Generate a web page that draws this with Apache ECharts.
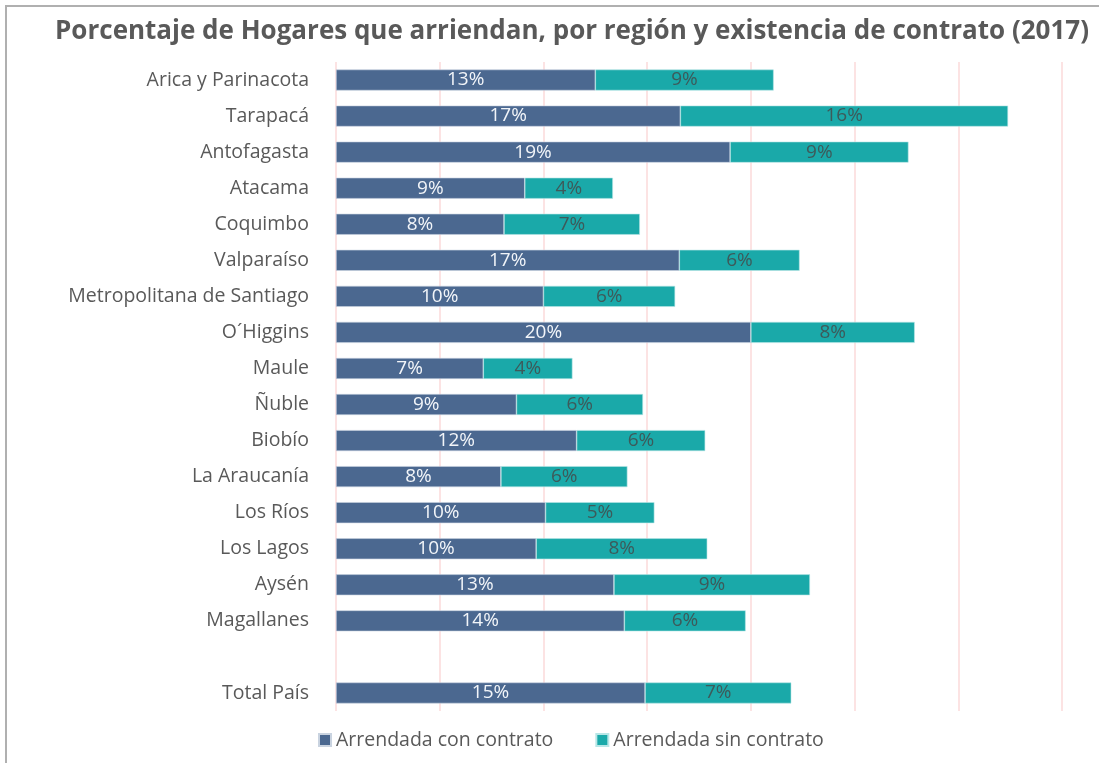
<!DOCTYPE html>
<html>
<head>
<meta charset="utf-8">
<script src="https://cdn.jsdelivr.net/npm/echarts@6/dist/echarts.min.js"></script>
<style>
  html, body { margin:0; padding:0; background:#fff; }
  #chart { width:1099px; height:763px; }
</style>
</head>
<body>
<div id="chart"></div>
<script>
// regiones (la fila vacía separa Total País)
const regiones = [
  "Arica y Parinacota","Tarapacá","Antofagasta","Atacama","Coquimbo","Valparaíso",
  "Metropolitana de Santiago","O´Higgins","Maule","Ñuble","Biobío","La Araucanía",
  "Los Ríos","Los Lagos","Aysén","Magallanes","","Total País"
];
const conContrato = [12.5, 16.6, 19.0, 9.1, 8.1, 16.55, 10.0, 20.0, 7.1, 8.7, 11.6, 7.95, 10.1, 9.65, 13.4, 13.9, null, 14.9];
const sinContrato = [8.6, 15.8, 8.6, 4.25, 6.55, 5.8, 6.35, 7.9, 4.3, 6.1, 6.2, 6.1, 5.25, 8.25, 9.45, 5.85, null, 7.05];
const serieNombres = ["Arrendada con contrato", "Arrendada sin contrato"];

const FONT = "Open Sans";
const GRIS = "#595959";

const chart = echarts.init(document.getElementById("chart"));

const lbl = (color) => ({
  show: true,
  position: "inside",
  color: color,
  fontFamily: FONT,
  fontSize: 19,
  formatter: p => (p.value == null ? "" : Math.round(p.value) + "%")
});

chart.setOption({
  animation: false,
  title: {
    text: "Porcentaje de Hogares que arriendan, por región y existencia de contrato (2017)",
    left: 567,
    textAlign: "center",
    top: 14,
    textStyle: { fontFamily: FONT, fontWeight: "bold", fontSize: 26, color: GRIS }
  },
  graphic: [{
    type: "rect",
    shape: { x: 6, y: 6, width: 1200, height: 900 },
    style: { fill: "none", stroke: "#b0b0b0", lineWidth: 2 },
    silent: true
  }],
  legend: {
    bottom: 8,
    left: 313,
    itemWidth: 12,
    itemHeight: 12,
    itemGap: 42,
    icon: "rect",
    textStyle: { fontFamily: FONT, fontSize: 19.5, color: GRIS },
    data: serieNombres
  },
  grid: { left: 336, right: 37, top: 62, height: 649 },
  xAxis: {
    type: "value",
    min: 0, max: 35, interval: 5,
    axisLabel: { show: false },
    axisLine: { show: false },
    axisTick: { show: false },
    splitLine: { show: true, lineStyle: { color: "#fbdada", width: 1.5 } }
  },
  yAxis: {
    type: "category",
    inverse: true,
    data: regiones,
    axisLine: { show: false },
    axisTick: { show: false },
    axisLabel: { fontFamily: FONT, fontSize: 19.5, color: GRIS, margin: 27 }
  },
  series: [
    {
      name: serieNombres[0],
      type: "bar",
      stack: "total",
      barWidth: 21,
      itemStyle: { color: "#4b6890", borderColor: "#c9d3e0", borderWidth: 0.6 },
      label: lbl("#f2f5f9"),
      data: conContrato
    },
    {
      name: serieNombres[1],
      type: "bar",
      stack: "total",
      barWidth: 21,
      itemStyle: { color: "#1aa9a9", borderColor: "#b8e6e6", borderWidth: 0.6 },
      label: lbl("#3d5a5a"),
      data: sinContrato
    }
  ]
});
</script>
</body>
</html>
